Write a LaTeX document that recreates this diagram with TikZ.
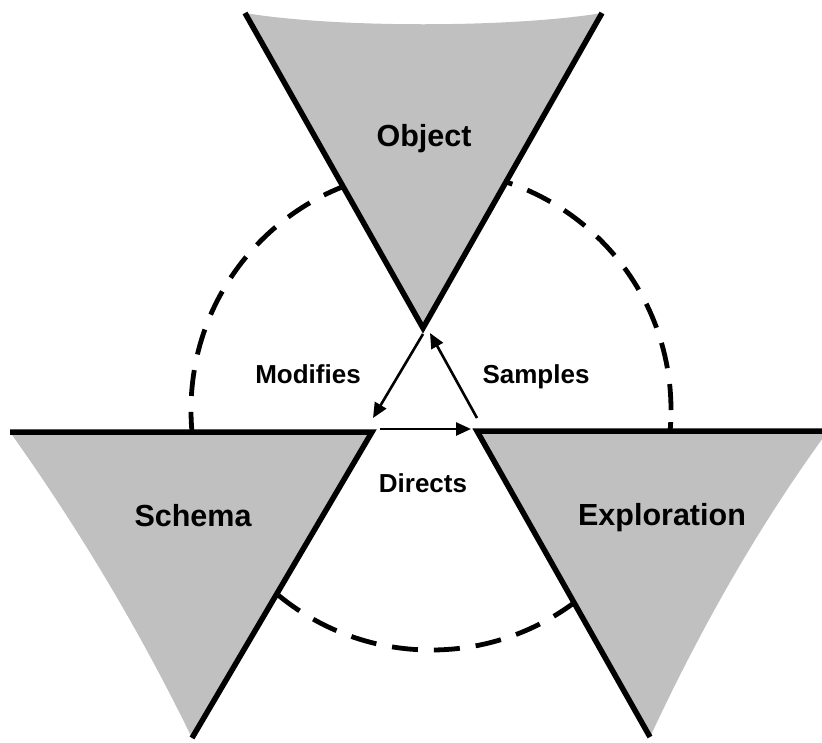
\documentclass[tikz,border=0pt]{standalone}
\usepackage{fontspec}
\setmainfont{Liberation Sans}
\usetikzlibrary{arrows.meta}
\definecolor{trigray}{RGB}{192,192,192}
\tikzset{
  trifill/.style={fill=trigray},
  triedge/.style={draw=black, line width=5.5pt, line join=miter},
  dashring/.style={draw=black, line width=4.8pt, dash pattern=on 26pt off 16pt},
  flow/.style={draw=black, line width=2.6pt, -{Triangle[length=15pt,width=13pt]}},
  biglabel/.style={inner sep=0pt, anchor=base, font=\bfseries\fontsize{30.5}{36}\selectfont},
  smalllabel/.style={inner sep=0pt, anchor=base, font=\bfseries\fontsize{26}{30}\selectfont}
}
\begin{document}
\begin{tikzpicture}[x=1pt,y=-1pt]
\useasboundingbox (0,0) rectangle (822,742);
\fill[white] (0,0) rectangle (822,742);

% corners
\coordinate (oL) at (245,13);
\coordinate (oR) at (602,13);
\coordinate (oA) at (423,328);
\coordinate (sL) at (10,432);
\coordinate (sR) at (372,432);
\coordinate (sA) at (192,738);
\coordinate (eL) at (477,431);
\coordinate (eR) at (828,431);
\coordinate (eA) at (650,737);
\coordinate (ringc) at (431,410);

% dashed ring behind the triangles
\draw[dashring] (ringc) circle (240pt);

% triangles
\fill[trifill] (oL) .. controls (334,28) and (512,28) .. (oR) -- (oA) -- cycle;
\fill[trifill] (sL) -- (sR) -- (sA) .. controls (140,631) and (79,529) .. (sL) -- cycle;
\fill[trifill] (eL) -- (eR) .. controls (757,528) and (700,630) .. (eA) -- cycle;
\draw[triedge] (oL) -- (oA) -- (oR);
\draw[triedge] (sL) -- (sR) -- (sA);
\draw[triedge] (eR) -- (eL) -- (eA);

% arrows
\coordinate (m1) at (423,334);
\coordinate (m2) at (373,418);
\coordinate (p1) at (477,418);
\coordinate (p2) at (430,333);
\coordinate (d1) at (380,429);
\coordinate (d2) at (471,429);
\draw[flow] (m1) -- (m2);
\draw[flow] (p1) -- (p2);
\draw[flow] (d1) -- (d2);

% labels
\node[biglabel] (object) at (424,146) {Object};
\node[biglabel] (schema) at (193,526) {Schema};
\node[biglabel] (exploration) at (662,525) {Exploration};
\node[smalllabel] (modifies) at (308,383) {Modifies};
\node[smalllabel] (samples) at (536,383) {Samples};
\node[smalllabel] (directs) at (423,492) {Directs};
\end{tikzpicture}
\end{document}
